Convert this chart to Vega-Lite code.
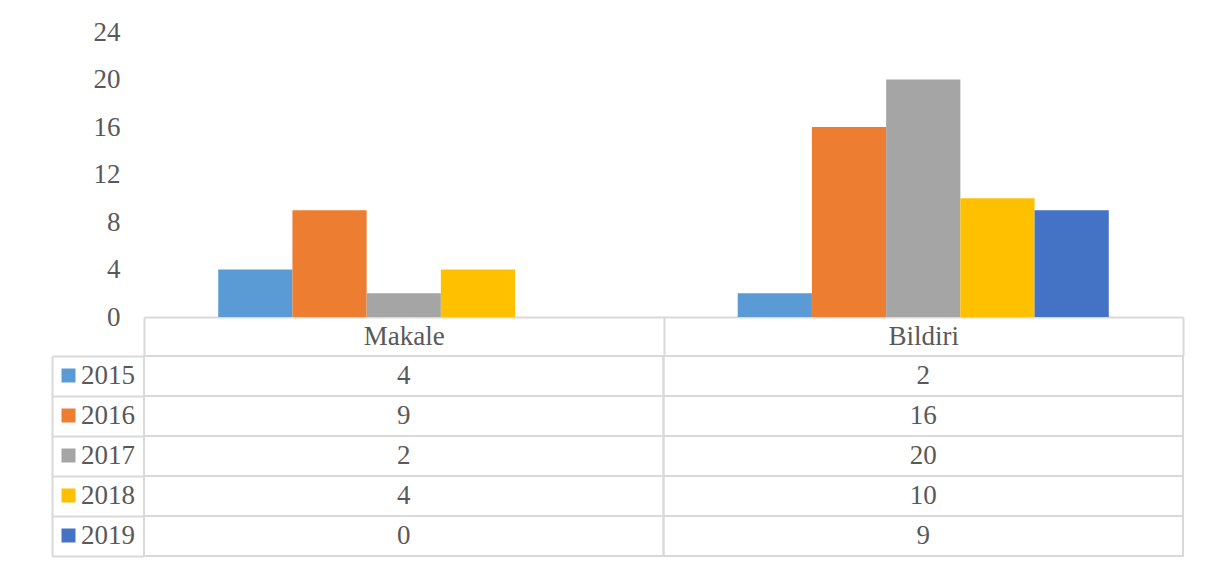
{
  "$schema": "https://vega.github.io/schema/vega-lite/v6.json",
  "autosize": {"type": "none"},
  "padding": {"left": 144, "top": 32, "right": 25, "bottom": 253},
  "width": 1039,
  "height": 285,
  "background": "white",
  "config": {"view": {"stroke": null}, "font": "Liberation Serif"},
  "data": {"values": [
    {"cat": "Makale", "year": "2015", "value": 4},
    {"cat": "Makale", "year": "2016", "value": 9},
    {"cat": "Makale", "year": "2017", "value": 2},
    {"cat": "Makale", "year": "2018", "value": 4},
    {"cat": "Makale", "year": "2019", "value": 0},
    {"cat": "Bildiri", "year": "2015", "value": 2},
    {"cat": "Bildiri", "year": "2016", "value": 16},
    {"cat": "Bildiri", "year": "2017", "value": 20},
    {"cat": "Bildiri", "year": "2018", "value": 10},
    {"cat": "Bildiri", "year": "2019", "value": 9}
  ]},
  "encoding": {
    "x": {
      "field": "cat", "type": "nominal", "sort": ["Makale", "Bildiri"],
      "scale": {"paddingInner": 0, "paddingOuter": 0},
      "axis": {
        "orient": "bottom", "title": null, "labelAngle": 0,
        "domainColor": "#d9d9d9", "domainWidth": 2,
        "ticks": true, "tickBand": "extent", "tickSize": 39, "tickColor": "#d9d9d9", "tickWidth": 2,
        "labelPadding": -19.5, "labelBaseline": "middle",
        "labelFont": "Liberation Serif", "labelFontSize": 27, "labelColor": "#595959"
      }
    }
  },
  "layer": [
    {
      "mark": {"type": "bar"},
      "encoding": {
        "xOffset": {"field": "year", "type": "nominal", "scale": {"paddingInner": 0, "paddingOuter": 1}},
        "y": {
          "field": "value", "type": "quantitative",
          "scale": {"domain": [0, 24], "nice": false},
          "axis": {
            "values": [0, 4, 8, 12, 16, 20, 24], "title": null,
            "domain": false, "ticks": false, "grid": false, "labelPadding": 24,
            "labelFont": "Liberation Serif", "labelFontSize": 27, "labelColor": "#595959"
          }
        },
        "color": {
          "field": "year", "type": "nominal",
          "scale": {"domain": ["2015", "2016", "2017", "2018", "2019"], "range": ["#5B9BD5", "#ED7D31", "#A5A5A5", "#FFC000", "#4472C4"]},
          "legend": {
            "orient": "none", "legendX": -89, "legendY": 330, "direction": "vertical",
            "title": null, "symbolType": "square", "symbolSize": 196, "symbolStrokeWidth": 0,
            "symbolOpacity": 1,
            "labelFont": "Liberation Serif", "labelFontSize": 27, "labelColor": "#595959",
            "labelOffset": -1, "rowPadding": 12, "padding": 0
          }
        }
      }
    },
    {
      "encoding": {
        "y": {
          "field": "year", "type": "ordinal",
          "scale": {"type": "band", "domain": ["2015", "2016", "2017", "2018", "2019"], "range": [324, 524], "paddingInner": 0, "paddingOuter": 0},
          "axis": {
            "orient": "left", "offset": 92, "title": null, "labels": false,
            "domain": true, "domainColor": "#d9d9d9", "domainWidth": 2,
            "ticks": true, "tickBand": "extent", "tickSize": -92, "tickColor": "#d9d9d9", "tickWidth": 2,
            "grid": false
          }
        }
      },
      "layer": [
        {
          "mark": {"type": "rect", "fill": "transparent", "stroke": "#d9d9d9", "strokeWidth": 2}
        },
        {
          "mark": {"type": "text", "font": "Liberation Serif", "fontSize": 27, "color": "#595959", "baseline": "middle", "align": "center"},
          "encoding": {"text": {"field": "value", "type": "quantitative"}}
        }
      ]
    }
  ],
  "resolve": {"scale": {"y": "independent"}, "axis": {"y": "independent"}}
}
